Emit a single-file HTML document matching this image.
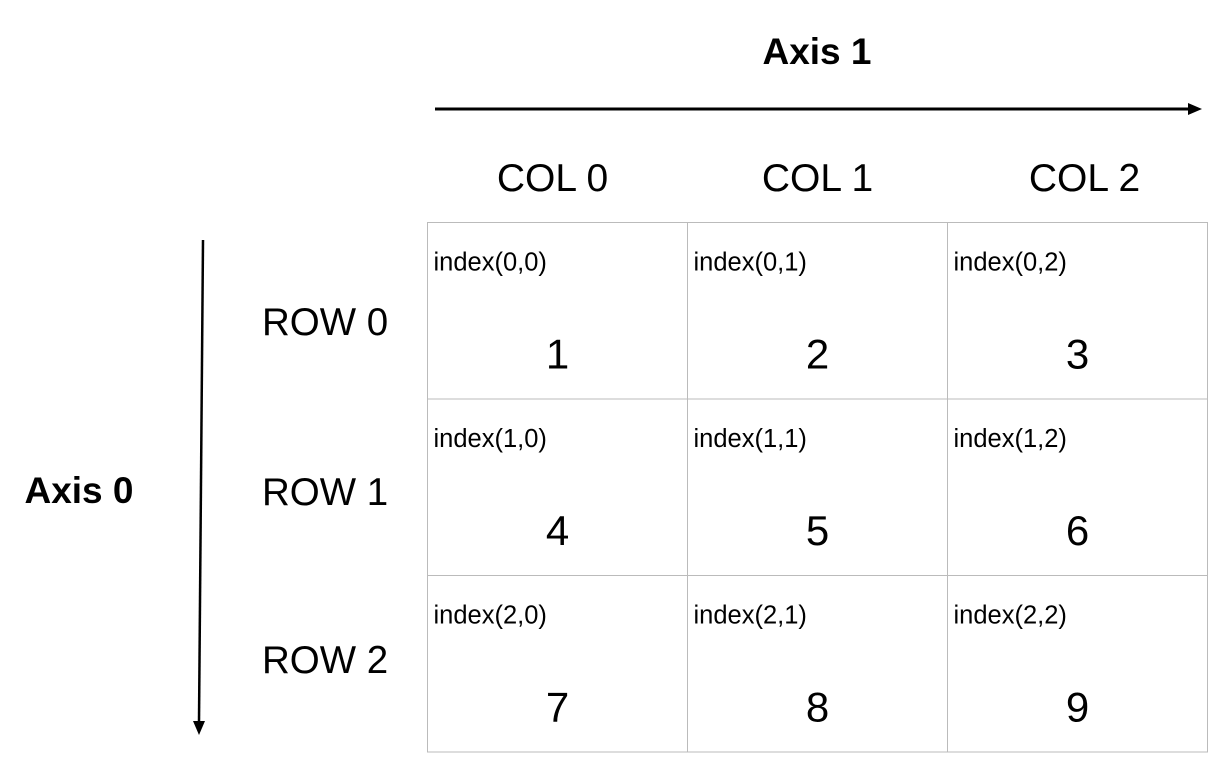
<!DOCTYPE html>
<html><head><meta charset="utf-8"><style>
html,body{margin:0;padding:0;background:#fff;}
svg{display:block;font-family:"Liberation Sans",Arial,sans-serif;}
</style></head><body>
<svg width="1232" height="772" viewBox="0 0 1232 772">
<text x="817" y="64" font-size="37" font-weight="bold" text-anchor="middle">Axis 1</text>
<line x1="435" y1="109" x2="1190" y2="109" stroke="#000" stroke-width="3"/>
<polygon points="1188,103 1202,109 1188,115" fill="#000"/>
<text x="79" y="503" font-size="37" font-weight="bold" text-anchor="middle">Axis 0</text>
<line x1="203" y1="240" x2="199" y2="722" stroke="#000" stroke-width="2.5"/>
<polygon points="193,721 199,735 205,721" fill="#000"/>
<g id="g"></g>
</svg>
<script>
const colLabels=["COL 0","COL 1","COL 2"];
const rowLabels=["ROW 0","ROW 1","ROW 2"];
const values=[[1,2,3],[4,5,6],[7,8,9]];
const NS="http://www.w3.org/2000/svg";
const g=document.getElementById("g");
const colX=[427.5,687.5,947.5,1207.5];
const rowY=[222.5,399,575.5,752];
const rowLabelY=[335,505,673];
const colLabelShift=[-5,0,7];
function t(x,y,s,size,anchor){const e=document.createElementNS(NS,"text");e.setAttribute("x",x);e.setAttribute("y",y);e.setAttribute("font-size",size);e.setAttribute("text-anchor",anchor);e.textContent=s;g.appendChild(e);return e;}
colLabels.forEach((c,j)=>{
const e=t((colX[j]+colX[j+1])/2+colLabelShift[j],191,c,39,"middle");


});
rowLabels.forEach((r,i)=>{
const e=t(262,rowLabelY[i],r,38.5,"start");


});
values.forEach((row,i)=>row.forEach((v,j)=>{
const rc=document.createElementNS(NS,"rect");
rc.setAttribute("x",colX[j]);rc.setAttribute("y",rowY[i]);
rc.setAttribute("width",colX[j+1]-colX[j]);rc.setAttribute("height",rowY[i+1]-rowY[i]);
rc.setAttribute("fill","none");rc.setAttribute("stroke","#bbb");rc.setAttribute("stroke-width","1");


g.appendChild(rc);
const ix=t(colX[j]+6,rowY[i]+48,"index("+i+","+j+")",25.5,"start");


const vt=t((colX[j]+colX[j+1])/2,rowY[i]+146,String(v),42,"middle");


}));
</script>
</body></html>
